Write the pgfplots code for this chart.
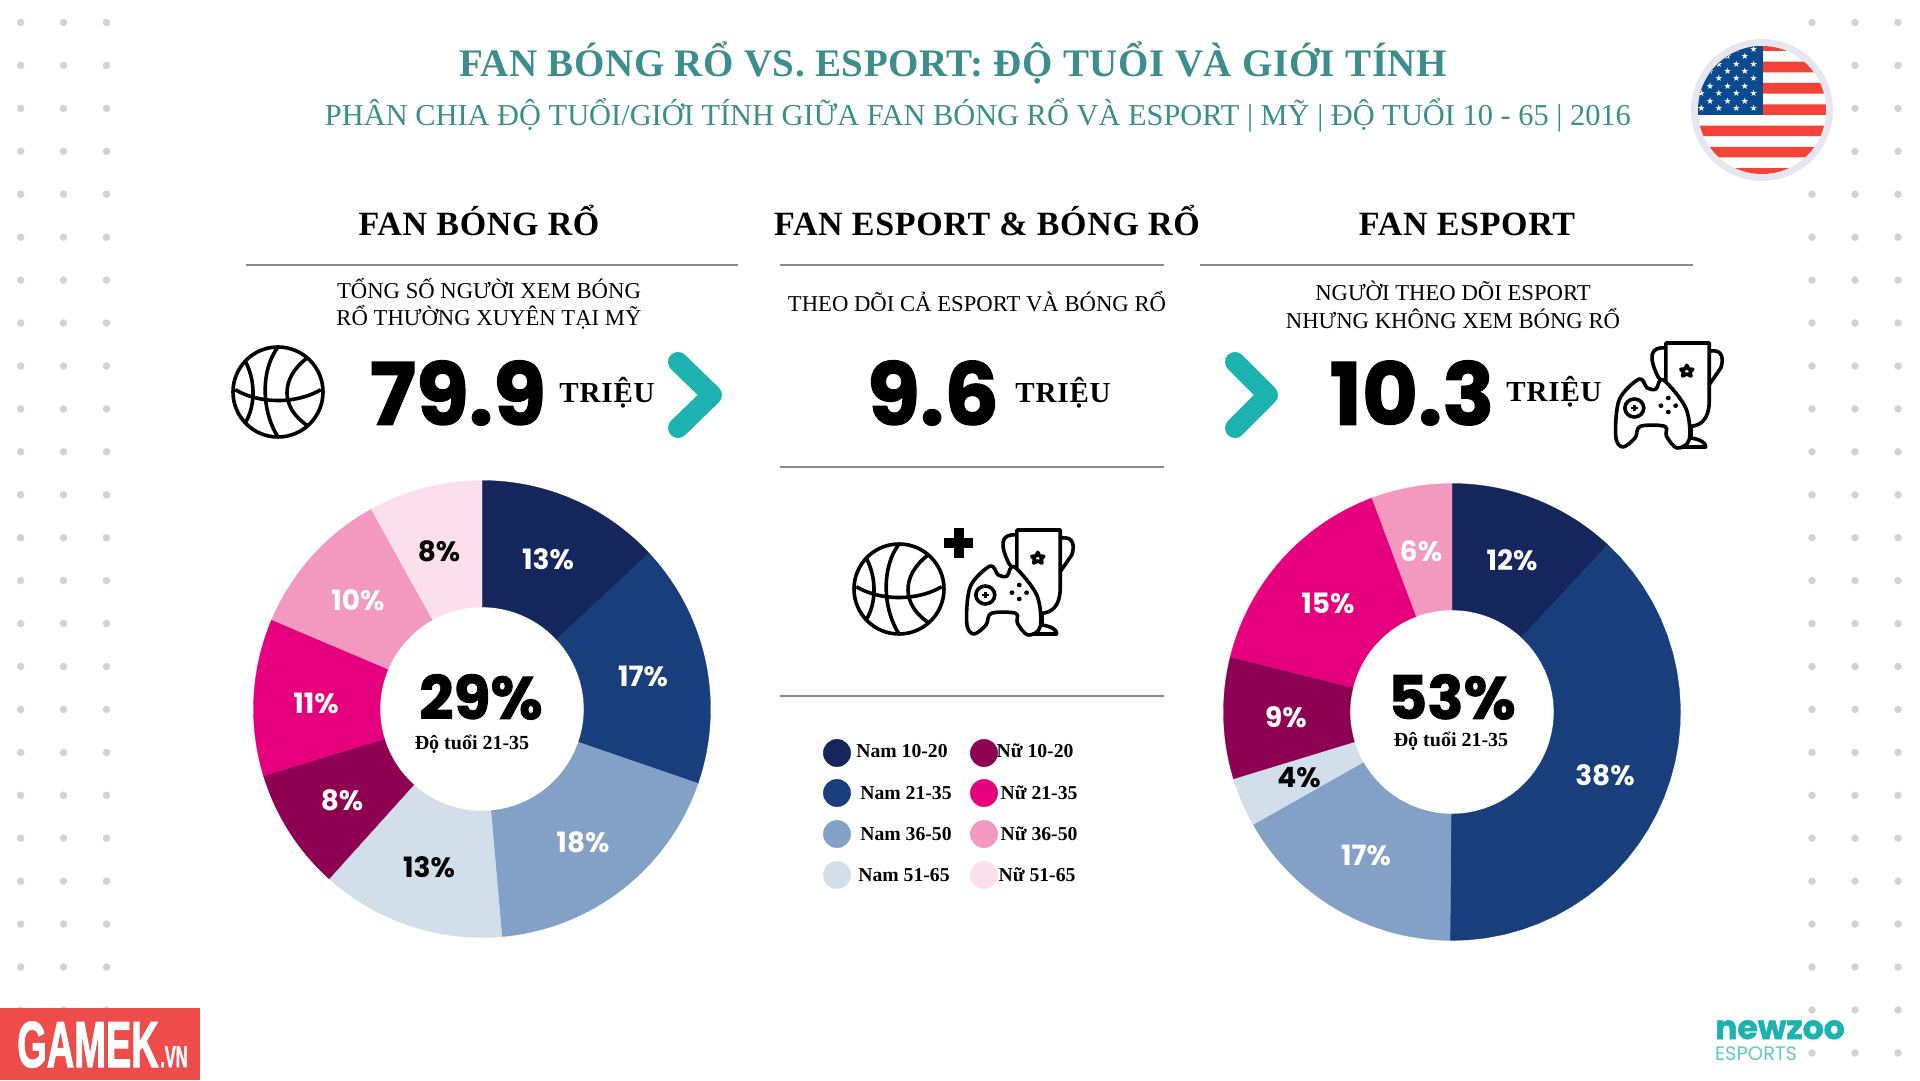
\documentclass[border=0pt]{standalone}
\usepackage{fontspec}
\usepackage{pgfplots}
\usepackage{pgfplotstable}
\pgfplotsset{compat=1.18}
\setmainfont{Liberation Serif}
\newfontfamily\pop{Poppins}[BoldFeatures={FakeBold=1.5}]
\newfontfamily\popn{Poppins}
\newfontfamily\sym{DejaVu Sans}
\newfontfamily\arial{Liberation Sans}[BoldFeatures={FakeBold=2}]

\definecolor{nam1}{HTML}{14265C}
\definecolor{nam2}{HTML}{183E7C}
\definecolor{nam3}{HTML}{83A0C6}
\definecolor{nam4}{HTML}{D3DEEB}
\definecolor{nu1}{HTML}{8E0052}
\definecolor{nu2}{HTML}{E6007E}
\definecolor{nu3}{HTML}{F398BF}
\definecolor{nu4}{HTML}{FBDFEC}
\definecolor{tealtxt}{HTML}{3B8E8C}
\definecolor{chev}{HTML}{1BB2B0}
\definecolor{rule}{HTML}{8A8A8A}
\definecolor{dots}{HTML}{D2D2D2}
\definecolor{flagred}{HTML}{F44336}
\definecolor{flagblue}{HTML}{0B4A8F}
\definecolor{flagring}{HTML}{E6E6F0}
\definecolor{logored}{HTML}{EE4B4B}

\newcommand{\fs}[1]{\fontsize{#1}{#1}\selectfont}

% centre x, centre y, start angle, end angle (clockwise from the top), colour
\newcommand{\slice}[5]{%
  \def\pts{}%
  \pgfplotsforeachungrouped \i in {0,...,30}{%
    \pgfmathsetmacro\a{#3+(#4-#3)*\i/30}%
    \pgfmathsetmacro\px{#1+228.5*sin(\a)}%
    \pgfmathsetmacro\py{#2-228.5*cos(\a)}%
    \edef\pts{\pts (\px,\py)}%
  }%
  \pgfplotsforeachungrouped \i in {30,29,...,0}{%
    \pgfmathsetmacro\a{#3+(#4-#3)*\i/30}%
    \pgfmathsetmacro\px{#1+102*sin(\a)}%
    \pgfmathsetmacro\py{#2-102*cos(\a)}%
    \edef\pts{\pts (\px,\py)}%
  }%
  \edef\cmd{\noexpand\addplot[fill=#5,draw=#5,line width=.3pt] coordinates {\pts} --cycle;}%
  \cmd
}

\newcommand{\ball}[3]{%
  \begin{scope}[shift={(#1,#2)},x=#3pt,y=#3pt,line width=3.6pt,black]
    \draw (0,0) circle[radius=1];
    \draw (-.95,.05) .. controls (-.4,-.27) and (.4,-.27) .. (.95,.05);
    \draw (0,1) .. controls (-.38,.5) and (-.38,-.4) .. (0,-1);
    \draw (-.72,.67) .. controls (-.5,.25) and (-.5,-.3) .. (-.72,-.67);
    \draw (.64,.75) .. controls (.05,.3) and (.05,-.35) .. (.66,-.75);
  \end{scope}}

\newcommand{\gameicon}[2]{%
  \begin{scope}[shift={(#1,#2)},x=.35pt,y=.3333pt,line width=3.6pt,black,line join=round]
    \draw (148,200) -- (148,315) -- (272,315) -- (272,140) .. controls (272,90) and (250,65) .. (215,65) -- (220,65);
    \draw[fill=white] (220,65) -- (220,30) .. controls (250,25) and (262,15) .. (262,3) -- (190,3);
    \draw (148,300) .. controls (100,305) and (100,270) .. (125,215) -- (140,195);
    \draw (272,290) .. controls (315,300) and (312,260) .. (305,240) -- (272,190);
    \draw (208,248) -- (213,237) -- (225,236) -- (217,227) -- (220,216) -- (208,222) -- (196,216) -- (199,227) -- (191,236) -- (203,237) -- cycle;
    \draw[fill=white,line join=round] plot[smooth cycle,tension=.55] coordinates {
      (25,3) (5,35) (15,145) (72,207) (95,180) (120,177) (140,205) (205,120) (215,25) (180,0) (150,35) (145,65) (75,65) (60,30)};
    \draw (58,120) circle[radius=27];
    \draw[line width=2.4pt] (48,120) -- (68,120) (58,110) -- (58,130);
    \fill (155,150) circle[radius=7] (155,108) circle[radius=7] (134,127) circle[radius=7] (176,127) circle[radius=7];
  \end{scope}}

\pgfplotstableread{
y
22.5
65.4
108.4
151.3
194.2
237.2
280.1
323
366
408.9
451.8
494.8
537.7
580.6
623.6
666.5
709.4
752.4
795.3
838.2
881.2
924.1
967
1010
1052.9
}\dotrows
\pgfplotstableread{
y
22.5
194.2
237.2
280.1
323
366
408.9
451.8
494.8
537.7
580.6
623.6
666.5
709.4
752.4
795.3
838.2
881.2
924.1
967
1010
1052.9
}\dotrowsflag

\begin{document}
\begin{tikzpicture}
\path (0,0) rectangle (1920pt,1080pt);
\begin{axis}[
  scale only axis, width=1920pt, height=1080pt,
  xmin=0, xmax=1920, ymin=0, ymax=1080, y dir=reverse,
  hide axis, clip=false]

% background dots
\pgfplotsinvokeforeach{20.7,63.5,106.5,1855,1898}{
  \addplot[only marks, mark=*, mark size=3.5pt, color=dots] table[x expr=#1, y=y] {\dotrows};
}
\addplot[only marks, mark=*, mark size=3.5pt, color=dots] table[x expr=1812, y=y] {\dotrowsflag};

% fan bong ro
\slice{482}{709}{0}{47}{nam1}
\slice{482}{709}{47}{109}{nam2}
\slice{482}{709}{109}{175}{nam3}
\slice{482}{709}{175}{222}{nam4}
\slice{482}{709}{222}{253}{nu1}
\slice{482}{709}{253}{293}{nu2}
\slice{482}{709}{293}{331}{nu3}
\slice{482}{709}{331}{360}{nu4}
% fan esport
\slice{1452}{712}{0}{43}{nam1}
\slice{1452}{712}{43}{180.5}{nam2}
\slice{1452}{712}{180.5}{240.5}{nam3}
\slice{1452}{712}{240.5}{253}{nam4}
\slice{1452}{712}{253}{284}{nu1}
\slice{1452}{712}{284}{339.5}{nu2}
\slice{1452}{712}{339.5}{360}{nu3}

% slice labels
\addplot[draw=none, mark=none, point meta=explicit symbolic, nodes near coords={\pgfplotspointmeta\%},
  every node near coord/.style={anchor=center, text=white, font=\popn\bfseries\fs{28}}]
  table[meta=v] {
x y v
548 559 13
643 676 17
583 842 18
342 800 8
316 703 11
358 600 10
1512 560 12
1605 775 38
1366 855 17
1286 717 9
1328 603 15
1421 551 6
};
\addplot[draw=none, mark=none, point meta=explicit symbolic, nodes near coords={\pgfplotspointmeta\%},
  every node near coord/.style={anchor=center, text=black, font=\popn\bfseries\fs{28}}]
  table[meta=v] {
x y v
429 867 13
439 551 8
1299 778 4
};

% legend
\addplot[only marks, mark=*, mark size=13.7pt, color=nam1] coordinates {(837,753)};
\addplot[only marks, mark=*, mark size=13.7pt, color=nam2] coordinates {(837,793)};
\addplot[only marks, mark=*, mark size=13.7pt, color=nam3] coordinates {(837,834)};
\addplot[only marks, mark=*, mark size=13.7pt, color=nam4] coordinates {(837,875)};
\addplot[only marks, mark=*, mark size=13.7pt, color=nu1] coordinates {(984,753)};
\addplot[only marks, mark=*, mark size=13.7pt, color=nu2] coordinates {(984,793)};
\addplot[only marks, mark=*, mark size=13.7pt, color=nu3] coordinates {(984,834)};
\addplot[only marks, mark=*, mark size=13.7pt, color=nu4] coordinates {(984,875)};

\end{axis}

\begin{scope}[x=1pt,y=-1pt,shift={(0pt,1080pt)}]
% titles
\node[anchor=base,text=tealtxt,font=\bfseries\fs{39}\addfontfeatures{LetterSpace=1.5}] at (953,77) {FAN BÓNG RỔ VS. ESPORT: ĐỘ TUỔI VÀ GIỚI TÍNH};
\node[anchor=base,text=tealtxt,font=\fs{30.4}] at (978,126) {PHÂN CHIA ĐỘ TUỔI/GIỚI TÍNH GIỮA FAN BÓNG RỔ VÀ ESPORT | MỸ | ĐỘ TUỔI 10 - 65 | 2016};
\node[anchor=base,font=\bfseries\fs{34}\addfontfeatures{LetterSpace=2}] at (479,236) {FAN BÓNG RỔ};
\node[anchor=base,font=\bfseries\fs{34}\addfontfeatures{LetterSpace=2}] at (987,236) {FAN ESPORT \& BÓNG RỔ};
\node[anchor=base,font=\bfseries\fs{34}\addfontfeatures{LetterSpace=2}] at (1467,236) {FAN ESPORT};
% rules
\draw[rule,line width=1.4pt] (246,265) -- (738,265) (780,265) -- (1164,265) (1200,265) -- (1693,265)
  (780,467) -- (1164,467) (780,696) -- (1164,696);
% descriptions
\node[anchor=base,font=\fs{22.7}] at (489,299) {TỔNG SỐ NGƯỜI XEM BÓNG};
\node[anchor=base,font=\fs{22.7}] at (489,326) {RỔ THƯỜNG XUYÊN TẠI MỸ};
\node[anchor=base,font=\fs{22.7}] at (977,312) {THEO DÕI CẢ ESPORT VÀ BÓNG RỔ};
\node[anchor=base,font=\fs{22.7}] at (1453,301) {NGƯỜI THEO DÕI ESPORT};
\node[anchor=base,font=\fs{22.7}] at (1453,329) {NHƯNG KHÔNG XEM BÓNG RỔ};
% big numbers
\node[font=\pop\bfseries\fs{86}] at (458,393) {79.9};
\node[font=\pop\bfseries\fs{86}] at (933,393) {9.6};
\node[font=\pop\bfseries\fs{86}] at (1412,393) {10.3};
\node[anchor=base,font=\bfseries\fs{29}\addfontfeatures{LetterSpace=3}] at (607,403) {TRIỆU};
\node[anchor=base,font=\bfseries\fs{29}\addfontfeatures{LetterSpace=3}] at (1063,403) {TRIỆU};
\node[anchor=base,font=\bfseries\fs{29}\addfontfeatures{LetterSpace=3}] at (1554,402) {TRIỆU};
% chevrons
\draw[chev,line width=20pt,line cap=round,line join=round] (678,362) -- (712,395) -- (678,428);
\draw[chev,line width=20pt,line cap=round,line join=round] (1235,362) -- (1268,395) -- (1235,428);
% donut centres
\node[anchor=base,inner sep=0,text depth=0pt,font=\pop\bfseries\fs{60}] at (481,719) {29\%};
\node[anchor=base,inner sep=0,font=\bfseries\fs{20}] at (472,750) {Độ tuổi 21-35};
\node[anchor=base,inner sep=0,text depth=0pt,font=\pop\bfseries\fs{60}] at (1452,719) {53\%};
\node[anchor=base,inner sep=0,font=\bfseries\fs{20}] at (1451,747) {Độ tuổi 21-35};
% legend text
\node[anchor=base,font=\bfseries\fs{19.7}] at (902,758) {Nam 10-20};
\node[anchor=base,font=\bfseries\fs{19.7}] at (906,800) {Nam 21-35};
\node[anchor=base,font=\bfseries\fs{19.7}] at (906,840) {Nam 36-50};
\node[anchor=base,font=\bfseries\fs{19.7}] at (904,881) {Nam 51-65};
\node[anchor=base,font=\bfseries\fs{19.7}] at (1035,758) {Nữ 10-20};
\node[anchor=base,font=\bfseries\fs{19.7}] at (1039,800) {Nữ 21-35};
\node[anchor=base,font=\bfseries\fs{19.7}] at (1039,840) {Nữ 36-50};
\node[anchor=base,font=\bfseries\fs{19.7}] at (1037,881) {Nữ 51-65};
% icons
\ball{278}{392}{45}
\ball{899}{589}{45}
\gameicon{1614}{448}
\gameicon{965}{635}
\draw[line width=10pt] (944,543) -- (973,543) (958.5,528) -- (958.5,558);
% flag
\fill[flagring] (1762,110) circle[radius=71];
\begin{scope}
  \clip (1762,110) circle[radius=64];
  \fill[white] (1690,40) rectangle (1830,180);
  \fill[flagred] \foreach \s in {0,...,6} {(1690,40.4+21.3*\s) rectangle (1830,51+21.3*\s)};
  \fill[flagblue] (1690,40) rectangle (1763,115);
  \foreach \r in {0,2,4,6,8}{
    \foreach \c in {0,1,2,3}{
      \node[text=white,inner sep=0,font=\sym\fs{9}] at (1753.7-17.4*\c,108.3-7.4*\r) {★};}}
  \foreach \r in {1,3,5,7}{
    \foreach \c in {0,1,2,3}{
      \node[text=white,inner sep=0,font=\sym\fs{9}] at (1745-17.4*\c,108.3-7.4*\r) {★};}}
\end{scope}
% logos
\fill[logored] (0,1008) rectangle (200,1080);
\node[text=white,inner sep=0,anchor=base west,font=\arial\bfseries\fs{65}] at (17,1067) {\scalebox{.585}[1]{GAMEK}};
\node[text=white,inner sep=0,anchor=base west,font=\arial\bfseries\fs{30}] at (160,1067) {\scalebox{.55}[1]{.VN}};
\node[text=chev,inner sep=0,anchor=base west,font=\pop\bfseries\fs{33}] at (1715,1039) {newzoo};
\node[text=chev!70!white,inner sep=0,anchor=base west,font=\popn\fs{19.5}] at (1715,1060) {ESPORTS};
\end{scope}
\end{tikzpicture}
\end{document}
